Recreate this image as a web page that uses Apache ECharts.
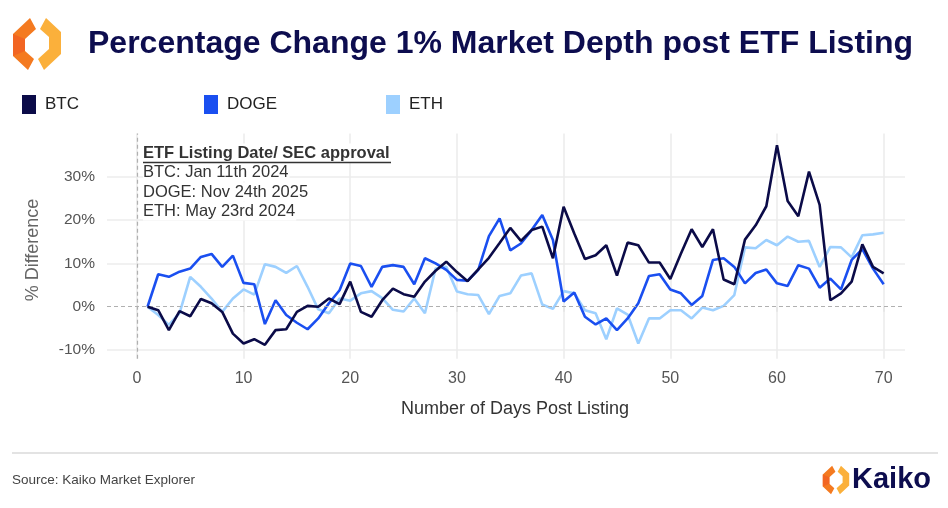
<!DOCTYPE html>
<html><head><meta charset="utf-8">
<script src="https://cdn.jsdelivr.net/npm/echarts@6/dist/echarts.min.js"></script>
<style>html,body{margin:0;padding:0;background:#fff}#c{width:948px;height:508px}</style>
</head><body><div id="c"></div>
<script>
const days = [1,2,3,4,5,6,7,8,9,10,11,12,13,14,15,16,17,18,19,20,21,22,23,24,25,26,27,28,29,30,31,32,33,34,35,36,37,38,39,40,41,42,43,44,45,46,47,48,49,50,51,52,53,54,55,56,57,58,59,60,61,62,63,64,65,66,67,68,69,70];
const btc = [0,-0.8,-5.4,-1,-2.2,1.8,0.8,-1.2,-6.2,-8.5,-7.5,-8.8,-5.4,-5.2,-1.2,0.2,0,1.9,0.6,5.8,-1.2,-2.3,1.5,4.2,2.9,2.3,5.8,8.3,10.4,8,5.9,8.6,11.3,14.7,18.2,15.2,17.7,18.5,11.2,23.1,16.9,11,11.9,14.2,7.2,14.8,14.2,10.2,10.2,6.4,12.3,17.9,13.8,17.9,6.3,5.2,15.5,18.8,23.2,37.3,24.4,20.9,31.2,23.5,1.5,3.1,5.8,14.4,9.2,7.7];
const doge = [0,7.5,6.9,8.1,8.8,11.5,12.2,9.2,11.8,5.5,5.2,-4,1.5,-1.9,-3.7,-5.2,-2.7,0.8,3.8,10,9.4,4.6,9.2,9.6,9.2,5.2,11.2,10,8.5,6.2,6,8.5,16.3,20.4,13,14.6,17.7,21.2,15.4,1.2,3.3,-2.3,-4.1,-2.7,-5.4,-2.7,0.8,7.1,7.5,4,3.1,0.4,2.5,10.8,11.2,9.2,5.4,7.8,8.6,5.4,4.8,9.6,8.8,4.4,6.5,4,10.8,13.3,8.8,5.2];
const eth = [0,-1.9,-4.2,-1.5,6.9,4.6,1.9,-1.2,1.9,4,2.8,9.8,9.2,7.8,9.4,4.6,-0.6,-1.5,1.9,1.4,3.1,3.6,2,-0.7,-1.1,1.9,-1.5,8.8,9.2,3.5,2.9,2.7,-1.7,2.5,3.1,7.2,7.7,0.5,-0.5,3.6,3.1,-0.8,-1.5,-7.5,-0.4,-1.8,-8.5,-2.7,-2.7,-0.8,-0.8,-2.7,-0.2,-0.8,0.2,2.7,13.7,13.5,15.4,14.2,16.2,15,15.2,9.2,13.8,13.7,11.4,16.5,16.7,17.1];
const xTicks = [0,10,20,30,40,50,60,70];
const yTicks = [-10,0,10,20,30];
const yGrid = [-10,10,20,30];
const seriesNames = ['BTC','DOGE','ETH'];
const colors = {BTC:'#0b0b48', DOGE:'#1a4ff0', ETH:'#9dd0ff'};
const titleText = 'Percentage Change 1% Market Depth post ETF Listing';
const noteTitle = 'ETF Listing Date/ SEC approval';
const noteLines = ['BTC: Jan 11th 2024','DOGE: Nov 24th 2025','ETH: May 23rd 2024'];

const FONT = 'Liberation Sans, Arial, sans-serif';
const chart = echarts.init(document.getElementById('c'), null, {renderer:'canvas'});
function pair(arr){ return days.map((d,i)=>[d, arr[i]]); }
function legendAt(name, left){
  return {data:[name], left:left, top:90, icon:'rect', itemWidth:14, itemHeight:19,
    textStyle:{fontFamily:FONT, fontSize:17, color:'#222', padding:[0,0,0,4]}, selectedMode:false};
}
function logo(cx, cy, s){
  const P = pts => pts.map(p=>[cx + p[0]*s, cy + p[1]*s]);
  return [
    {type:'polygon', silent:true, shape:{points:P([[-7,-26],[-24,-10],[-24,12],[-9,26],[-3,15],[-12,7],[-12,-5],[-1,-15]])}, style:{fill:'#f47a20'}},
    {type:'polygon', silent:true, shape:{points:P([[7,26],[24,10],[24,-12],[9,-26],[3,-15],[12,-7],[12,5],[1,15]])}, style:{fill:'#fbb03b'}},
    {type:'polygon', silent:true, shape:{points:P([[-24,-10],[-24,12],[-12,7],[-12,-5]])}, style:{fill:'#f26522'}}
  ];
}
function note(text, y, bold){
  return {type:'text', x:143, y:y, silent:true, z:50, style:{text:text, fontFamily:FONT, fontWeight:bold?'bold':'normal', fontSize:16.5, fill:'#333', verticalAlign:'middle', backgroundColor:'#fff', padding:[1,1,1,0]}};
}
const graphics = [].concat(
  logo(37, 44, 1.0),
  [
  {type:'text', left:88, top:28, silent:true, style:{text:titleText, fontFamily:FONT, fontWeight:'bold', fontSize:32, fill:'#0d0d4f'}},
  note(noteTitle, 153, true),
  note(noteLines[0], 172, false),
  note(noteLines[1], 192, false),
  note(noteLines[2], 211, false),
  {type:'line', silent:true, z:60, shape:{x1:143, y1:162.5, x2:391, y2:162.5}, style:{stroke:'#333', lineWidth:1.3}},
  {type:'text', x:515, y:409, silent:true, style:{text:'Number of Days Post Listing', fontFamily:FONT, fontSize:18, fill:'#333', align:'center', verticalAlign:'middle'}},
  {type:'text', x:33, y:250, rotation:Math.PI/2, silent:true, style:{text:'% Difference', fontFamily:FONT, fontSize:18, fill:'#666', align:'center', verticalAlign:'middle'}},
  {type:'line', silent:true, shape:{x1:12, y1:453, x2:938, y2:453}, style:{stroke:'#c8c8c8', lineWidth:1.2}},
  {type:'text', x:12, y:480, silent:true, style:{text:'Source: Kaiko Market Explorer', fontFamily:FONT, fontSize:13.5, fill:'#444', verticalAlign:'middle'}},
  {type:'text', x:852, y:480, silent:true, style:{text:'Kaiko', fontFamily:FONT, fontWeight:'bold', fontSize:29, fill:'#0d0d4f', verticalAlign:'middle'}}
  ],
  logo(836, 480, 0.55)
);

const option = {
  animation:false,
  backgroundColor:'#fff',
  legend: [legendAt('BTC',17), legendAt('DOGE',199), legendAt('ETH',381)],
  grid:{left:107, right:43, top:133.5, bottom:149.3},
  xAxis:{type:'value', min:-2.8, max:72,
    axisLine:{show:false},
    axisTick:{show:true, length:5, lineStyle:{color:'#e3e3e3', width:1.5}, customValues:xTicks},
    axisLabel:{customValues:xTicks, fontFamily:FONT, fontSize:16, color:'#555', margin:12},
    splitLine:{show:true, lineStyle:{color:'#ededed', width:1.6}}},
  yAxis:{type:'value', min:-12, max:40,
    axisLine:{show:false},
    axisTick:{show:false, customValues:yGrid},
    axisLabel:{customValues:yTicks, formatter:'{value}%', fontFamily:FONT, fontSize:15.5, color:'#555', margin:12},
    splitLine:{show:true, lineStyle:{color:'#ededed', width:1.6}}},
  series:[
    {name:'ETH', type:'line', data:pair(eth), showSymbol:false, symbol:'none', z:3, lineStyle:{width:2.6, color:colors.ETH}, itemStyle:{color:colors.ETH},
     markLine:{silent:true, symbol:['none','none'], label:{show:false}, lineStyle:{type:[4,3], color:'#b0b0b0', width:1.2}, data:[{yAxis:0},{xAxis:0}]}},
    {name:'DOGE', type:'line', data:pair(doge), showSymbol:false, symbol:'none', z:4, lineStyle:{width:2.6, color:colors.DOGE}, itemStyle:{color:colors.DOGE}},
    {name:'BTC', type:'line', data:pair(btc), showSymbol:false, symbol:'none', z:5, lineStyle:{width:2.6, color:colors.BTC}, itemStyle:{color:colors.BTC}}
  ],
  graphic: graphics
};
chart.setOption(option);
</script></body></html>
